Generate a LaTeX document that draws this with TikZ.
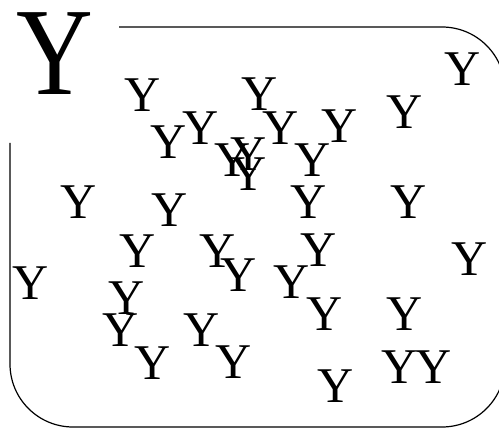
\documentclass[tikz,border=0pt]{standalone}
\usepackage{fontspec}
\setmainfont{Liberation Serif}
\usepackage{tikz}

\tikzset{
  leaf/.style={font=\fontsize{50}{50}\selectfont, inner sep=0pt},
  bigleaf/.style={font=\fontsize{125}{125}\selectfont, inner sep=0pt,
    xscale=0.85, transform shape},
}

\begin{document}
\begin{tikzpicture}[x=1pt, y=-1pt]
      \def\W{499}
      \def\H{428}
      \def\R{63}

      \useasboundingbox (0,0) rectangle (\W,\H);

      % frame, left open at the top corner
      \draw[line width=1.2pt, rounded corners=\R pt]
        (119,27) -- (505,27) -- (505,427) -- (10,427) -- (10,143);

      \node[bigleaf] (title) at (55,54) {Y};

      \foreach \px/\py [count=\i] in {
          143/95, 169/142.5, 201/128.5, 232.5/160, 249/154, 249/174,
          260/94.5, 281/128.5, 340/126.5, 313/160.5,
          463/69.5, 404.5/112.5,
          79/202, 169.5/210, 308.5/202.5, 409/202.5,
          138/251, 217.5/251, 238.5/275.5, 292/282, 319/250, 469.5/259.5,
          31/283, 126.5/298.5,
          121/330.5, 201.5/330.5, 324.5/314.5, 404.5/314.5,
          153/363.5, 233.5/362.5, 335.5/386.5, 400/367, 433.5/367}{
        \node[leaf] (y\i) at (\px,\py) {Y};
      }

    \end{tikzpicture}
\end{document}
